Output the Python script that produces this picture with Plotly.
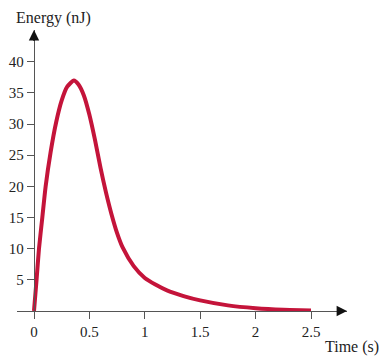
import plotly.graph_objects as go

# Data
time_s = [0, 0.023, 0.045, 0.075, 0.105, 0.15, 0.2, 0.25, 0.3, 0.36, 0.4, 0.45,
          0.5, 0.55, 0.6, 0.65, 0.7, 0.75, 0.8, 0.9, 1.0, 1.1, 1.2, 1.35, 1.5,
          1.75, 2.0, 2.25, 2.5]
energy_nj = [0, 5, 10, 15, 20, 25.5, 30.3, 33.8, 36, 37, 36.4, 34.6,
             31.5, 27.5, 23, 19, 15.5, 12.5, 10.2, 7.2, 5.3, 4.2, 3.3, 2.4, 1.7,
             0.9, 0.45, 0.2, 0.1]
x_ticks = [0, 0.5, 1, 1.5, 2, 2.5]
x_tick_labels = ["0", "0.5", "1", "1.5", "2", "2.5"]
y_ticks = [5, 10, 15, 20, 25, 30, 35, 40]
y_tick_labels = ["5", "10", "15", "20", "25", "30", "35", "40"]

OFF = 8  # page body margin
W, H = 387 - OFF, 356 - OFF
ML, MR, MT, MB = 17 - OFF, 40, 30 - OFF, 45
xr = [-0.1534, 2.8249]
yr = [0, 45.1]
axis_col = "#555555"
font_fam = "Liberation Serif, Times New Roman, serif"
txt_col = "#222222"

fig = go.Figure()
fig.add_trace(go.Scatter(x=time_s, y=energy_nj, mode="lines",
                         line=dict(color="#C4143A", width=4, shape="spline", smoothing=0.6),
                         hoverinfo="skip"))

pw = W - ML - MR
ph = H - MT - MB
fig.update_layout(
    width=W, height=H,
    margin=dict(l=ML, r=MR, t=MT, b=MB, autoexpand=False),
    plot_bgcolor="white", paper_bgcolor="white",
    showlegend=False,
    font=dict(family=font_fam, size=15, color=txt_col),
    xaxis=dict(range=xr, showgrid=False, zeroline=False, showline=True,
               linecolor=axis_col, linewidth=1.3,
               tickvals=x_ticks, ticktext=x_tick_labels, ticks="outside",
               ticklen=7, tickwidth=1.3, tickcolor=axis_col,
               tickfont=dict(family=font_fam, size=15, color=txt_col)),
    yaxis=dict(range=yr, showgrid=False, zeroline=False, showline=True,
               anchor="free", position=(34 - OFF - ML) / pw,
               linecolor=axis_col, linewidth=1.3,
               tickvals=y_ticks, ticktext=y_tick_labels, ticks="outside",
               ticklen=7, tickwidth=1.3, tickcolor=axis_col,
               tickfont=dict(family=font_fam, size=15, color=txt_col)),
)

# arrowheads
fig.add_annotation(x=xr[1], y=0, ax=xr[1] - 0.1, ay=0, xref="x", yref="y",
                   axref="x", ayref="y", text="", showarrow=True,
                   arrowhead=2, arrowsize=1.6, arrowwidth=1.3, arrowcolor="#111111",
                   standoff=0, startstandoff=0)
fig.add_annotation(x=0, y=yr[1], ax=0, ay=yr[1] - 2, xref="x", yref="y",
                   axref="x", ayref="y", text="", showarrow=True,
                   arrowhead=2, arrowsize=1.6, arrowwidth=1.3, arrowcolor="#111111",
                   standoff=0, startstandoff=0)

def px_to_paper(px, py):
    # page pixel -> paper coordinates
    fx, fy = px - OFF, py - OFF
    return (fx - ML) / pw, (H - MB - fy) / ph

ex, ey = px_to_paper(53, 18)
tx, ty = px_to_paper(352, 347)
fig.add_annotation(x=ex, y=ey, xref="paper", yref="paper",
                   xanchor="center", yanchor="middle",
                   text="Energy (nJ)", showarrow=False,
                   font=dict(family=font_fam, size=16, color=txt_col))
fig.add_annotation(x=tx, y=ty, xref="paper", yref="paper",
                   xanchor="center", yanchor="middle",
                   text="Time (s)", showarrow=False,
                   font=dict(family=font_fam, size=16, color=txt_col))

fig.write_html("out.html")
